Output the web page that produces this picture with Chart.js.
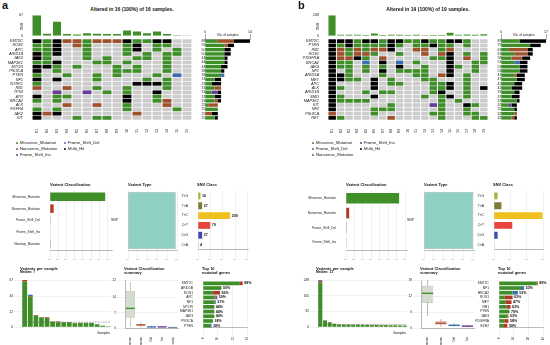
<!DOCTYPE html>
<html>
<head>
<meta charset="utf-8">
<script src="https://cdn.jsdelivr.net/npm/chart.js@4.4.0/dist/chart.umd.min.js"></script>
<style>
  body { margin: 0; width: 550px; height: 345px; background: #fff; position: relative; overflow: hidden;
         font-family: "Liberation Sans", Arial, sans-serif; }
  canvas { position: absolute; }
  .t { position: absolute; white-space: nowrap; line-height: 1; color: #111; }
</style>
</head>
<body>
<script>
// ---------- panel a ----------
const genesA = ['KMT2C','ROS1','APC','ARID1B','JAK3','MAP3K1','MTOR','PIK3CA','PTEN','NF1',
                'NTRK1','RB1','TP53','ATR','BRCA2','ALK','FGFR4','JAK2','KIT'];
// G missense, N nonsense, D frame shift del, I frame shift ins, M multi hit
const matrixA = [
  'MGMNNGNNNMGGMM..',
  'GGM.NG...GM.GG..',
  'GGM..G...GM.G.G.',
  'MGM..G...G.G.GG.',
  'MG...G.G..GG.G..',
  'GGM...GG.G...G..',
  'MMG.G...G.G..G..',
  'M.G.....GGG..G..',
  'G..G..G.G...G.D.',
  'M.M...G....G.G..',
  'G.........MMMG..',
  'N..N..G..G...G..',
  '..I..I.G.G..M...',
  'M.GG.....M..G...',
  'G.G......M..GN..',
  '...N..N..G...N..',
  'G.G......G....G.',
  'MNM.......N.....',
  'M...G.GG........'
];
const samplesA = ['P01','P02','P03','P04','P05','P06','P07','P08','P09','P10','P11','P12','P13','P14','P15','P16'];
const tmbA = [67, 7, 46, 6, 4, 8, 7, 6, 6, 17, 14, 8, 14, 6, 2, 1];
const sideMaxA = 14;
const vcLabelsA = ['Missense_Mutation','Nonsense_Mutation','Frame_Shift_Del','Frame_Shift_Ins','Nonstop_Mutation'];
const vcA = [335, 22, 3, 2, 5];
const vcTicksA = [0, 50, 100, 150, 200, 250, 300, 350];
const vtA = [362];
const vtTicksA = [0, 75, 150, 225, 300, 375];
const snvA = [16, 27, 209, 79, 27, 4];
const snvTicksA = [0, 80, 160, 240, 320];
const vpsMisA = [65, 43, 16, 14, 13, 8, 7, 7, 7, 5, 6, 6, 6, 4, 2, 1];
const vpsNonA = [2, 1, 1, 0, 1, 0, 1, 0, 0, 1, 0, 0, 0, 0, 0, 0];
const vpsDelA = [0, 2, 0, 0, 0, 0, 0, 0, 0, 0, 0, 0, 0, 0, 0, 0];
const vpsInsA = [0, 0, 0, 0, 0, 0, 0, 0, 0, 0, 0, 0, 0, 0, 0, 0];
const vpsTicksA = [0, 22, 44, 67];
const medianA = 7;
const boxLabelsA = ['Missense','Nonsense','Del','Ins','Nonstop'];
const boxLoA  = [0.5, 0.4, 0.1, 0.1, 0];
const boxQ1A  = [4.7, 1.0, 0.3, 0.3, 0.1];
const boxMedA = [9.0, 1.4, 0.5, 0.5, 0.2];
const boxQ3A  = [17,  1.8, 0.7, 0.7, 0.3];
const boxHiA  = [21,  2.6, 1.0, 1.0, 0.4];
const boxTicksA = [0, 7, 14, 22];
const topGenesA = ['KMT2C','ARID1B','ROS1','APC','NF1','MTOR','MAP3K1','JAK3','PIK3CA','PTEN'];
const topMisA = [26, 13, 7, 8, 8, 8, 8, 8, 7, 5];
const topNonA = [2, 0, 5, 1, 0, 0, 0, 0, 0, 0];
const topDelA = [0, 0, 0, 1, 1, 0, 0, 0, 0, 1];
const topPctA = ['88%','50%','56%','50%','31%','44%','44%','44%','38%','38%'];
const topTicksA = [0, 10, 21, 31];

// ---------- panel b ----------
const genesB = ['KMT2C','PTEN','RB1','ROS1','PDGFRA','BRCA2','JAK3','NF1','ARID1A','MET',
                'APC','ALK','ARID1B','SMO','MAP3K1','KIT','NF2','PIK3CA','RET'];
const matrixB = [
  'MMMGMMGMMGGMGGMMG..',
  'MGMGGGGMG.GGMGG.G..',
  'MNGNGNNM..NN.GN....',
  'MNGNNG..G..N.NM.G.G',
  'MNNMG.N.....GGM.N.G',
  'MGG.D.M.D.G...M..GG',
  'MGG.G.G.M..G..MG.G.',
  'M.G.G.M.GGGG..M..G.',
  'MMG...G...GG.NM.G..',
  'MMGG.M.G...GG...G..',
  'M....M.GG...GGM.G..',
  'MG...M......GGM.G.M',
  'M...G.GG....GM..G..',
  'MG...M.....G.GM.G..',
  'MGGGG........G.G...',
  'M......G....IG..MG.',
  'M....GGG.....G..G..',
  'N....G......GG..GG.',
  'MG.....N.....G...GG'
];
const samplesB = ['P01','P02','P03','P04','P05','P06','P07','P08','P09','P10','P11','P12','P13','P14','P15','P16','P17','P18','P19'];
const tmbB = [248, 13, 12, 13, 10, 27, 11, 14, 12, 9, 12, 8, 10, 11, 36, 13, 15, 14, 18];
const sideMaxB = 17;
const vcLabelsB = ['Missense_Mutation','Nonsense_Mutation','Frame_Shift_Del','Frame_Shift_Ins'];
const vcB = [470, 28, 5, 3];
const vcTicksB = [0, 75, 150, 225, 300, 375, 450, 525];
const vtB = [498];
const vtTicksB = [0, 100, 200, 300, 400, 500];
const snvB = [22, 45, 295, 111, 22, 3];
const snvTicksB = [0, 100, 200, 300];
const vpsMisB = [235, 33, 24, 17, 13, 12, 13, 12, 11, 12, 11, 10, 11, 10, 10, 9, 9, 8, 7];
const vpsNonB = [8, 2, 2, 1, 1, 2, 1, 1, 2, 1, 1, 2, 1, 1, 1, 1, 1, 1, 1];
const vpsDelB = [3, 1, 0, 0, 1, 0, 0, 0, 0, 0, 0, 0, 0, 0, 0, 0, 0, 0, 0];
const vpsInsB = [2, 0, 1, 0, 0, 0, 0, 0, 0, 0, 0, 0, 0, 0, 0, 0, 0, 0, 0];
const vpsTicksB = [0, 82, 165, 248];
const medianB = 13;
const boxLabelsB = ['Missense','Nonsense','Del','Ins'];
const boxLoB  = [4.5, 0.5, 0.4, 0.3];
const boxQ1B  = [9.5, 1.2, 0.7, 0.5];
const boxMedB = [13,  1.8, 1.0, 0.7];
const boxQ3B  = [15.8, 2.5, 1.3, 0.9];
const boxHiB  = [18,  3.4, 2.0, 1.1];
const boxTicksB = [0, 6, 12, 18];
const topGenesB = ['KMT2C','NF1','BRCA2','ROS1','MET','RB1','PTEN','JAK3','PDGFRA','EZH2'];
const topMisB = [36, 21, 13, 5, 6, 7, 10, 8, 5, 4];
const topNonB = [1, 0, 0, 8, 6, 4, 0, 1, 4, 4];
const topDelB = [0, 3, 5, 0, 0, 0, 0, 0, 0, 0];
const topPctB = ['89%','53%','53%','63%','47%','63%','79%','53%','58%','58%'];
const topTicksB = [0, 14, 28, 42];

const snvLabels = ['T>G','T>A','T>C','C>T','C>G','C>A'];
const snvColors = ['#a3b83a','#7d7b38','#f0c11e','#e8453c','#3f49b0','#8fa8d8'];

const TYPES = ['G','N','D','I','M'];
const TYPE_COL = { G: '#3f8f28', N: '#a0522d', D: '#3b6db5', I: '#6a3d9a', M: '#000000' };
const VC_COL = { Missense_Mutation: '#3f8f28', Nonsense_Mutation: '#b13a26', Frame_Shift_Del: '#3b6db5',
                 Frame_Shift_Ins: '#6a3d9a', Nonstop_Mutation: '#8ea0c0' };

Chart.defaults.font.family = '"Liberation Sans", Arial, sans-serif';
Chart.defaults.font.size = 4;
Chart.defaults.color = '#222';
Chart.defaults.animation = false;
Chart.defaults.responsive = false;
Chart.defaults.plugins.legend.display = false;
Chart.defaults.plugins.tooltip.enabled = false;

function cv(x, y, w, h) {
  const c = document.createElement('canvas');
  c.width = w; c.height = h;
  c.style.left = x + 'px'; c.style.top = y + 'px';
  document.body.appendChild(c);
  return c;
}
function txt(x, y, s, size, css) {
  const d = document.createElement('div');
  d.className = 't';
  d.style.left = x + 'px'; d.style.top = y + 'px'; d.style.fontSize = size + 'px';
  if (css) Object.assign(d.style, css);
  d.textContent = s;
  document.body.appendChild(d);
  return d;
}
const fixW = n => s => { s.width = n; };
const fixH = n => s => { s.height = n; };
const at = vals => s => { s.ticks = vals.map(v => ({ value: v })); };
const grid = { color: '#e2e2e2', lineWidth: 0.5 };
const axisLine = { color: '#777', width: 0.5 };

function endLabels(texts, totals) {
  return {
    id: 'endLabels',
    afterDatasetsDraw(ch) {
      const { ctx, scales: { x, y } } = ch;
      ctx.save();
      ctx.font = 'bold 3.6px "Liberation Sans", Arial';
      ctx.fillStyle = '#111';
      ctx.textBaseline = 'middle';
      texts.forEach((t, i) => ctx.fillText(t, x.getPixelForValue(totals[i]) + 1.5, y.getPixelForValue(i)));
      ctx.restore();
    }
  };
}
function medianLine(v) {
  return {
    id: 'median',
    afterDatasetsDraw(ch) {
      const { ctx, chartArea: a, scales: { y } } = ch;
      const py = y.getPixelForValue(v);
      ctx.save();
      ctx.strokeStyle = '#666'; ctx.lineWidth = 0.6; ctx.setLineDash([1.5, 1.2]);
      ctx.beginPath(); ctx.moveTo(a.left, py); ctx.lineTo(a.right, py); ctx.stroke();
      ctx.restore();
    }
  };
}

function panel(p, dx) {
  const nS = p.samples.length;
  txt(dx + 2, 0, p.letter, 11, { fontWeight: 'bold' });
  txt(dx + 132, 7, p.title, 5, { fontWeight: 'bold', transform: 'translateX(-50%)' });

  // top bar: mutations per sample
  const tmbMax = Math.max(...p.tmb);
  new Chart(cv(dx, 12, 192, 27), {
    type: 'bar',
    data: { labels: p.samples, datasets: [{ data: p.tmb, backgroundColor: TYPE_COL.G, barPercentage: 0.8, categoryPercentage: 1 }] },
    options: {
      layout: { padding: { top: 3, bottom: 2 } },
      scales: {
        x: { display: false },
        y: { min: 0, max: tmbMax, afterBuildTicks: at([0, tmbMax]), grid: { display: false }, border: axisLine,
             ticks: { padding: 1, font: { size: 3.6 } }, afterFit: fixW(32) }
      }
    }
  });
  txt(dx + 21, 30, 'TMB', 3.4, { transformOrigin: '0 0', transform: 'rotate(-90deg)' });

  // oncoplot matrix (first dataset is drawn on top)
  const bg = [], mu = [], muCol = [];
  p.genes.forEach((g, i) => {
    for (let j = 0; j < nS; j++) {
      bg.push({ x: [j + 0.06, j + 0.94], y: g });
      const c = p.matrix[i][j];
      if (c !== '.') { mu.push({ x: [j + 0.06, j + 0.94], y: g }); muCol.push(TYPE_COL[c]); }
    }
  });
  const pct = p.matrix.map(r => Math.round(100 * r.replace(/\./g, '').length / nS) + '%');
  new Chart(cv(dx, 35, 206, 98), {
    type: 'bar',
    data: { labels: p.genes, datasets: [
      { data: mu, backgroundColor: muCol, grouped: false, barPercentage: 0.86, categoryPercentage: 1 },
      { data: bg, backgroundColor: '#cccccc', grouped: false, barPercentage: 0.86, categoryPercentage: 1 }
    ] },
    options: {
      indexAxis: 'y',
      layout: { padding: { top: 4 } },
      scales: {
        x: { type: 'linear', min: 0, max: nS, display: false },
        xs: { type: 'category', labels: p.samples, position: 'bottom', offset: true, grid: { display: false },
              border: { display: false }, ticks: { autoSkip: false, minRotation: 90, maxRotation: 90, padding: 1, font: { size: 3.3 } },
              afterFit: fixH(13) },
        y: { grid: { display: false }, border: { display: false },
             ticks: { autoSkip: false, padding: 1, font: { size: 3.9, style: 'italic' } }, afterFit: fixW(32) },
        y2: { type: 'category', labels: pct, position: 'right', offset: true, grid: { display: false }, border: { display: false },
              ticks: { autoSkip: false, padding: 1.5, font: { size: 3.5 } }, afterFit: fixW(14) }
      }
    }
  });

  // side bar: number of samples per gene
  const side = TYPES.map(t => ({
    data: p.matrix.map(r => r.split('').filter(c => c === t).length),
    backgroundColor: TYPE_COL[t], barPercentage: 0.8, categoryPercentage: 1
  }));
  new Chart(cv(dx + 203, 24, 50, 96), {
    type: 'bar',
    data: { labels: p.genes, datasets: side },
    options: {
      indexAxis: 'y',
      layout: { padding: { left: 2, right: 3 } },
      scales: {
        x: { stacked: true, position: 'top', min: 0, max: p.sideMax, afterBuildTicks: at([0, p.sideMax]),
             grid: { drawOnChartArea: false, tickLength: 5, color: '#555', lineWidth: 0.5 }, border: axisLine,
             ticks: { padding: 0, font: { size: 3.5 } }, afterFit: fixH(15) },
        y: { stacked: true, display: false }
      }
    }
  });
  txt(dx + 228, 33.5, 'No. of samples', 3.2, { transform: 'translateX(-50%)' });

  // legend
  p.legend.forEach(([label, code, col, row]) => {
    const x = dx + 17 + col * 48, y = 141 + row * 6;
    txt(x - 1.2, y + 0.8, '', 1, { width: '2.4px', height: '2.4px', borderRadius: '50%', background: TYPE_COL[code] });
    txt(x + 3, y, label, 4.2);
  });

  // summary row 1
  txt(dx + 50, 183, 'Variant Classification', 4, { fontWeight: 'bold' });
  txt(dx + 128, 183, 'Variant Type', 4, { fontWeight: 'bold' });
  txt(dx + 197, 183, 'SNV Class', 4, { fontWeight: 'bold' });

  new Chart(cv(dx, 187, 114, 73), {
    type: 'bar',
    data: { labels: p.vcLabels, datasets: [{ data: p.vc, backgroundColor: p.vcLabels.map(l => VC_COL[l]),
            barPercentage: 0.72, categoryPercentage: 1 }] },
    options: {
      indexAxis: 'y',
      layout: { padding: { top: 3, right: 2 } },
      scales: {
        x: { min: 0, max: p.vcMax, afterBuildTicks: at(p.vcTicks), grid: grid, border: axisLine,
             ticks: { minRotation: 90, maxRotation: 90, padding: 1, font: { size: 3 } }, afterFit: fixH(10) },
        y: { grid: { display: false }, border: { display: false },
             ticks: { autoSkip: false, padding: 2, font: { size: 3.2 } }, afterFit: fixW(50) }
      }
    }
  });

  new Chart(cv(dx + 100, 187, 82, 73), {
    type: 'bar',
    data: { labels: ['SNP'], datasets: [{ data: p.vt, backgroundColor: '#8fd2c5', borderColor: '#9a9a9a', borderWidth: 0.7,
            borderSkipped: false, barPercentage: 0.97, categoryPercentage: 1 }] },
    options: {
      indexAxis: 'y',
      layout: { padding: { top: 3, right: 2 } },
      scales: {
        x: { min: 0, max: p.vtMax, afterBuildTicks: at(p.vtTicks), grid: grid, border: axisLine,
             ticks: { minRotation: 90, maxRotation: 90, padding: 1, font: { size: 3 } }, afterFit: fixH(10) },
        y: { grid: { display: false }, border: { display: false },
             ticks: { padding: 2, font: { size: 3.4 } }, afterFit: fixW(28) }
      }
    }
  });

  new Chart(cv(dx + 178, 187, 74, 73), {
    type: 'bar',
    data: { labels: snvLabels, datasets: [{ data: p.snv, backgroundColor: snvColors, barPercentage: 0.7, categoryPercentage: 1 }] },
    options: {
      indexAxis: 'y',
      layout: { padding: { top: 3, right: 2 } },
      scales: {
        x: { min: 0, max: p.snvMax, afterBuildTicks: at(p.snvTicks), grid: grid, border: axisLine,
             ticks: { minRotation: 90, maxRotation: 90, padding: 1, font: { size: 3 } }, afterFit: fixH(10) },
        y: { grid: { display: false }, border: { display: false },
             ticks: { autoSkip: false, padding: 2, font: { size: 3.3 } }, afterFit: fixW(20) }
      }
    },
    plugins: p.snvShow ? [endLabels(p.snv.map(String), p.snv)] : []
  });

  // summary row 2
  txt(dx + 20, 266.5, 'Variants per sample', 4, { fontWeight: 'bold' });
  txt(dx + 20, 271.3, 'Median: ' + p.median, 3.3, { fontWeight: 'bold' });
  txt(dx + 124, 266.5, 'Variant Classification', 4, { fontWeight: 'bold' });
  txt(dx + 124, 271.3, 'summary', 4, { fontWeight: 'bold' });
  txt(dx + 202, 266.5, 'Top 10', 4, { fontWeight: 'bold' });
  txt(dx + 202, 271.3, 'mutated genes', 4, { fontWeight: 'bold' });

  const vpsMax = p.vpsTicks[p.vpsTicks.length - 1];
  const vpsSets = [[p.vpsMis, TYPE_COL.G], [p.vpsNon, '#b13a26'], [p.vpsDel, TYPE_COL.D], [p.vpsIns, TYPE_COL.I]]
    .map(([d, c]) => ({ data: d, backgroundColor: c, barPercentage: 0.85, categoryPercentage: 1 }));
  new Chart(cv(dx, 277, 111, 53), {
    type: 'bar',
    data: { labels: p.samples, datasets: vpsSets },
    options: {
      layout: { padding: { top: 3, bottom: 2 } },
      scales: {
        x: { stacked: true, display: false },
        y: { stacked: true, min: 0, max: vpsMax, afterBuildTicks: at(p.vpsTicks), grid: grid, border: axisLine,
             ticks: { padding: 1, font: { size: 3.2 } }, afterFit: fixW(22) }
      }
    },
    plugins: [medianLine(p.median)]
  });
  txt(dx + 110, 331.5, 'Samples', 3.3, { transform: 'translateX(-100%)' });

  const boxMax = p.boxTicks[p.boxTicks.length - 1];
  const fills = ['#d4dccd', '#f6c9c9', '#c8d2ea', '#d9cde6', '#d5dbe4'];
  const lines = ['#a3aca0', '#e59090', '#7f96c9', '#9d86bd', '#9aa6b8'];
  const meds = ['#3f8f28', '#a0522d', '#3b6db5', '#6a3d9a', '#7c8aa0'];
  const d = boxMax * 0.014;
  new Chart(cv(dx + 105, 277, 75, 68), {
    type: 'bar',
    data: { labels: p.boxLabels, datasets: [
      { data: p.boxMed.map(v => [v - d, v + d]), backgroundColor: meds, grouped: false, barPercentage: 0.85, categoryPercentage: 1 },
      { data: p.boxQ1.map((v, i) => [v, p.boxQ3[i]]), backgroundColor: fills, borderColor: lines, borderWidth: 0.6,
        borderSkipped: false, grouped: false, barPercentage: 0.85, categoryPercentage: 1 },
      { data: p.boxLo.map((v, i) => [v, p.boxHi[i]]), backgroundColor: '#9a9a9a', grouped: false, barPercentage: 0.05, categoryPercentage: 1 }
    ] },
    options: {
      layout: { padding: { top: 3, right: 2 } },
      scales: {
        x: { grid: { display: false }, border: axisLine,
             ticks: { autoSkip: false, minRotation: 90, maxRotation: 90, padding: 1, font: { size: 3 } }, afterFit: fixH(17) },
        y: { min: 0, max: boxMax, afterBuildTicks: at(p.boxTicks), grid: grid, border: axisLine,
             ticks: { padding: 1, font: { size: 3.2 } }, afterFit: fixW(20) }
      }
    }
  });

  const topMax = p.topTicks[p.topTicks.length - 1];
  const topTot = p.topMis.map((v, i) => v + p.topNon[i] + p.topDel[i]);
  new Chart(cv(dx + 163, 277, 96, 63), {
    type: 'bar',
    data: { labels: p.topGenes, datasets: [[p.topMis, TYPE_COL.G], [p.topNon, '#b13a26'], [p.topDel, TYPE_COL.D]]
      .map(([dd, c]) => ({ data: dd, backgroundColor: c, barPercentage: 0.78, categoryPercentage: 1 })) },
    options: {
      indexAxis: 'y',
      layout: { padding: { top: 3, right: 12 } },
      scales: {
        x: { stacked: true, min: 0, max: topMax, afterBuildTicks: at(p.topTicks), grid: grid, border: axisLine,
             ticks: { minRotation: 90, maxRotation: 90, padding: 1, font: { size: 3 } }, afterFit: fixH(12) },
        y: { stacked: true, grid: { display: false }, border: { display: false },
             ticks: { autoSkip: false, padding: 2, font: { size: 3.3 } }, afterFit: fixW(40) }
      }
    },
    plugins: [endLabels(p.topPct, topTot)]
  });
}

panel({
  letter: 'a', title: 'Altered in 16 (100%) of 16 samples.',
  genes: genesA, matrix: matrixA, samples: samplesA, tmb: tmbA, sideMax: sideMaxA,
  legend: [['Missense_Mutation','G',0,0], ['Nonsense_Mutation','N',0,1], ['Frame_Shift_Ins','I',0,2],
           ['Frame_Shift_Del','D',1,0], ['Multi_Hit','M',1,1]],
  vcLabels: vcLabelsA, vc: vcA, vcTicks: vcTicksA, vcMax: 376,
  vt: vtA, vtTicks: vtTicksA, vtMax: 375,
  snv: snvA, snvTicks: snvTicksA, snvMax: 330, snvShow: true,
  vpsMis: vpsMisA, vpsNon: vpsNonA, vpsDel: vpsDelA, vpsIns: vpsInsA, vpsTicks: vpsTicksA, median: medianA,
  boxLabels: boxLabelsA, boxLo: boxLoA, boxQ1: boxQ1A, boxMed: boxMedA, boxQ3: boxQ3A, boxHi: boxHiA, boxTicks: boxTicksA,
  topGenes: topGenesA, topMis: topMisA, topNon: topNonA, topDel: topDelA, topPct: topPctA, topTicks: topTicksA
}, 0);

panel({
  letter: 'b', title: 'Altered in 19 (100%) of 19 samples.',
  genes: genesB, matrix: matrixB, samples: samplesB, tmb: tmbB, sideMax: sideMaxB,
  legend: [['Missense_Mutation','G',0,0], ['Frame_Shift_Del','D',0,1], ['Nonsense_Mutation','N',0,2],
           ['Frame_Shift_Ins','I',1,0], ['Multi_Hit','M',1,1]],
  vcLabels: vcLabelsB, vc: vcB, vcTicks: vcTicksB, vcMax: 540,
  vt: vtB, vtTicks: vtTicksB, vtMax: 515,
  snv: snvB, snvTicks: snvTicksB, snvMax: 300, snvShow: false,
  vpsMis: vpsMisB, vpsNon: vpsNonB, vpsDel: vpsDelB, vpsIns: vpsInsB, vpsTicks: vpsTicksB, median: medianB,
  boxLabels: boxLabelsB, boxLo: boxLoB, boxQ1: boxQ1B, boxMed: boxMedB, boxQ3: boxQ3B, boxHi: boxHiB, boxTicks: boxTicksB,
  topGenes: topGenesB, topMis: topMisB, topNon: topNonB, topDel: topDelB, topPct: topPctB, topTicks: topTicksB
}, 296);
</script>
</body>
</html>
